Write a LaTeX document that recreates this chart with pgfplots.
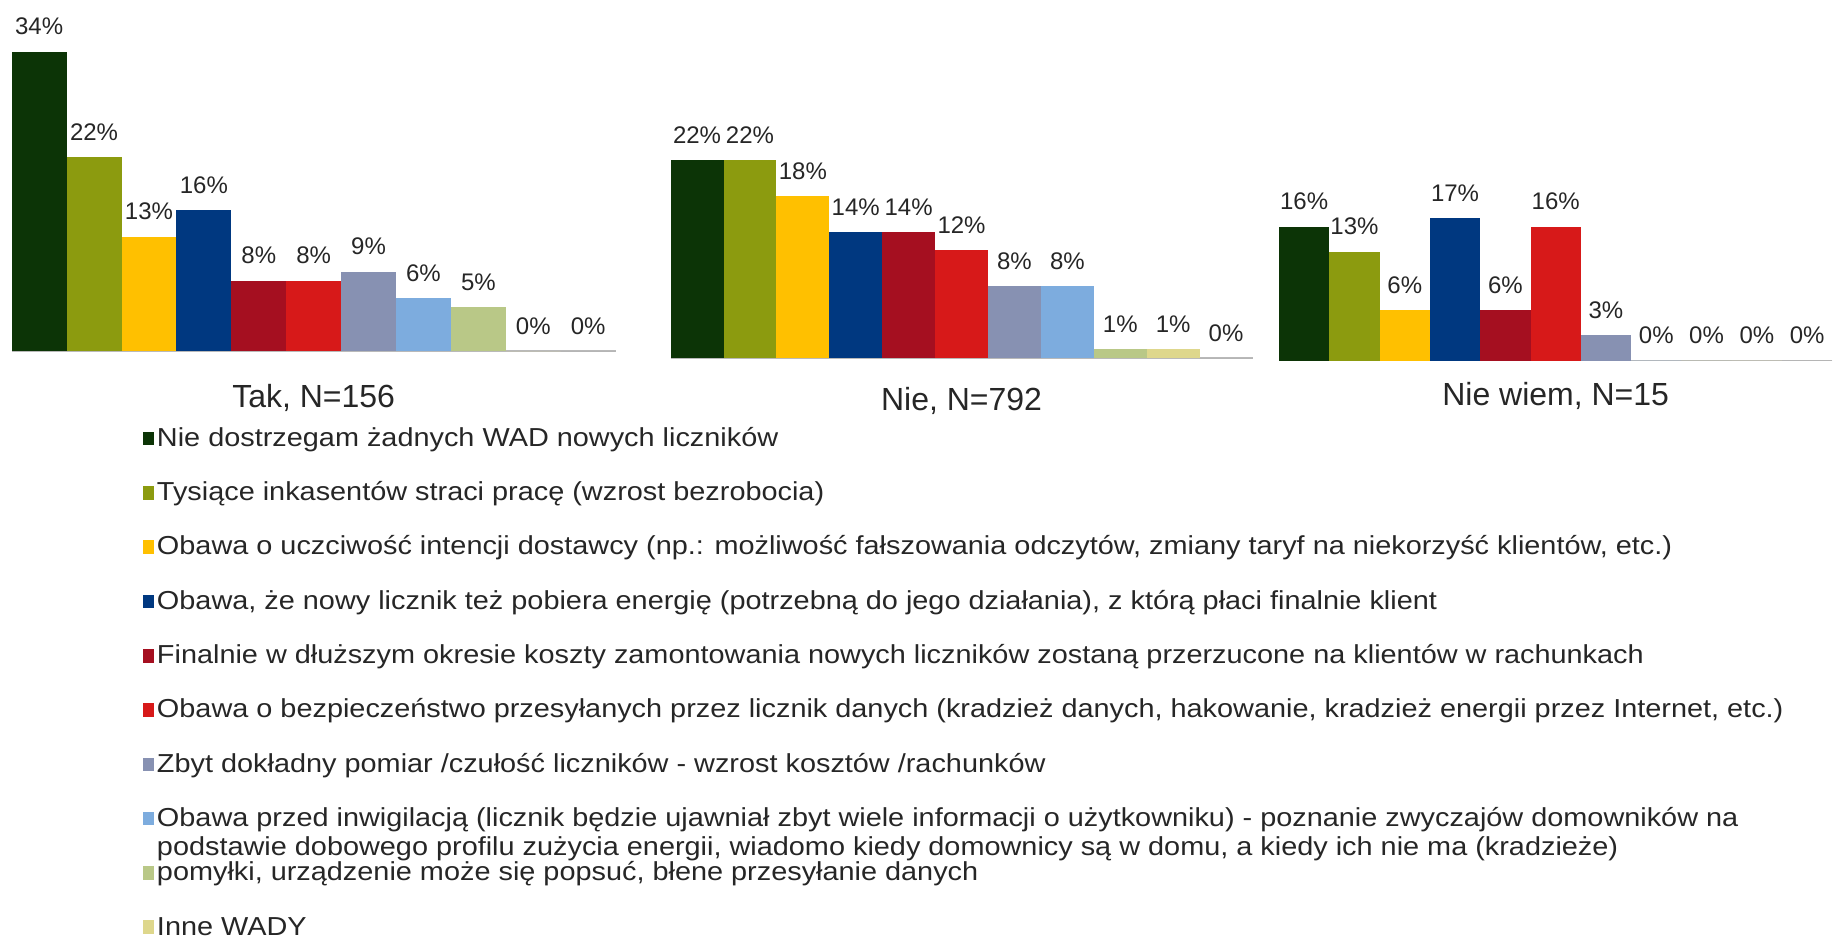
\documentclass[border=0pt]{standalone}
\usepackage{fontspec}
\setmainfont{Liberation Sans}
\newfontfamily\legfont[FakeStretch=1.11]{Liberation Sans}
\usepackage{pgfplots}
\pgfplotsset{compat=1.18}

\definecolor{c1}{RGB}{12,52,6}
\definecolor{c2}{RGB}{140,155,15}
\definecolor{c3}{RGB}{255,192,0}
\definecolor{c4}{RGB}{0,56,128}
\definecolor{c5}{RGB}{165,15,32}
\definecolor{c6}{RGB}{215,25,25}
\definecolor{c7}{RGB}{135,145,178}
\definecolor{c8}{RGB}{125,172,222}
\definecolor{c9}{RGB}{185,200,135}
\definecolor{c10}{RGB}{222,215,140}
\definecolor{c11}{RGB}{160,160,160}

% legend text: fixed height so that rows are evenly spaced
\newcommand{\lt}[1]{\raisebox{0pt}[9.3pt][0pt]{#1}}

\pgfplotsset{grp/.style={
  scale only axis, clip=false,
  anchor=south west,
  xmin=-0.5, xmax=10.5, ymin=0,
  axis x line*=bottom, axis y line=none,
  xtick=\empty, ytick=\empty,
  axis line style={gray!55, line width=0.6pt, -},
  ybar,
  every axis plot/.append style={bar width=1, bar shift=0pt, draw=none},
  nodes near coords={\pgfmathprintnumber[assume math mode=true]{\pgfplotspointmeta}\%},
  every node near coord/.append style={font=\fontsize{12}{14}\selectfont, anchor=base, inner sep=0pt, yshift=8.5pt, text=black!85},
  xlabel style={font=\fontsize{16}{19}\selectfont, at={(axis description cs:0.5,0)}, anchor=center, text=black!85},
}}

\begin{document}
\begin{tikzpicture}
\useasboundingbox (0,0) rectangle (917.5pt,-470.5pt);

% Tak, N=156
\begin{axis}[grp, at={(5.85pt,-175.5pt)}, x=27.45pt, y=4.4pt, ymax=34,
  xlabel={Tak, N=156}, xlabel style={yshift=-23.5pt},
  legend style={at={(axis description cs:0.2174,-0.2563)}, anchor=north west, draw=none, fill=none,
    inner sep=0pt, outer sep=0pt, row sep=16.35pt, column sep=1.5pt,
    font=\legfont\fontsize{13}{14.6}\selectfont, text=black!85, nodes={inner sep=0pt}},
  legend cell align=left,
  legend image code/.code={\fill[#1] (0pt,-3.4pt) rectangle (5.5pt,3.4pt);},
]
\addplot[fill=c1] coordinates {(0,34)};
\addlegendentry{\lt{Nie dostrzegam żadnych WAD nowych liczników}}
\addplot[fill=c2] coordinates {(1,22)};
\addlegendentry{\lt{Tysiące inkasentów straci pracę (wzrost bezrobocia)}}
\addplot[fill=c3] coordinates {(2,13)};
\addlegendentry{\lt{Obawa o uczciwość intencji dostawcy (np.: możliwość fałszowania odczytów, zmiany taryf na niekorzyść klientów, etc.)}}
\addplot[fill=c4] coordinates {(3,16)};
\addlegendentry{\lt{Obawa, że nowy licznik też pobiera energię (potrzebną do jego działania), z którą płaci finalnie klient}}
\addplot[fill=c5] coordinates {(4,8)};
\addlegendentry{\lt{Finalnie w dłuższym okresie koszty zamontowania nowych liczników zostaną przerzucone na klientów w rachunkach}}
\addplot[fill=c6] coordinates {(5,8)};
\addlegendentry{\lt{Obawa o bezpieczeństwo przesyłanych przez licznik danych (kradzież danych, hakowanie, kradzież energii przez Internet, etc.)}}
\addplot[fill=c7] coordinates {(6,9)};
\addlegendentry{\lt{Zbyt dokładny pomiar /czułość liczników - wzrost kosztów /rachunków}}
\addplot[fill=c8] coordinates {(7,6)};
\addlegendentry{\lt{\begin{tabular}[t]{@{}l@{}}Obawa przed inwigilacją (licznik będzie ujawniał zbyt wiele informacji o użytkowniku) - poznanie zwyczajów domowników na\\podstawie dobowego profilu zużycia energii, wiadomo kiedy domownicy są w domu, a kiedy ich nie ma (kradzieże)\end{tabular}}}
\addplot[fill=c9] coordinates {(8,5)};
\addlegendentry{\lt{pomyłki, urządzenie może się popsuć, błene przesyłanie danych}}
\addplot[fill=c10] coordinates {(9,0)};
\addlegendentry{\lt{Inne WADY}}
\addplot[fill=c11] coordinates {(10,0)};
\end{axis}

% Nie, N=792
\begin{axis}[grp, at={(335.3pt,-179pt)}, x=26.45pt, y=4.5pt, ymax=22,
  xlabel={Nie, N=792}, xlabel style={yshift=-21.5pt}]
\addplot[fill=c1] coordinates {(0,22)};
\addplot[fill=c2] coordinates {(1,22)};
\addplot[fill=c3] coordinates {(2,18)};
\addplot[fill=c4] coordinates {(3,14)};
\addplot[fill=c5] coordinates {(4,14)};
\addplot[fill=c6] coordinates {(5,12)};
\addplot[fill=c7] coordinates {(6,8)};
\addplot[fill=c8] coordinates {(7,8)};
\addplot[fill=c9] coordinates {(8,1)};
\addplot[fill=c10] coordinates {(9,1)};
\addplot[fill=c11] coordinates {(10,0)};
\end{axis}

% Nie wiem, N=15
\begin{axis}[grp, at={(639.5pt,-180.25pt)}, x=25.15pt, y=4.18pt, ymax=17,
  xlabel={Nie wiem, N=15}, xlabel style={yshift=-17.75pt}]
\addplot[fill=c1] coordinates {(0,16)};
\addplot[fill=c2] coordinates {(1,13)};
\addplot[fill=c3] coordinates {(2,6)};
\addplot[fill=c4] coordinates {(3,17)};
\addplot[fill=c5] coordinates {(4,6)};
\addplot[fill=c6] coordinates {(5,16)};
\addplot[fill=c7] coordinates {(6,3)};
\addplot[fill=c8] coordinates {(7,0)};
\addplot[fill=c9] coordinates {(8,0)};
\addplot[fill=c10] coordinates {(9,0)};
\addplot[fill=c11] coordinates {(10,0)};
\end{axis}
\end{tikzpicture}
\end{document}
